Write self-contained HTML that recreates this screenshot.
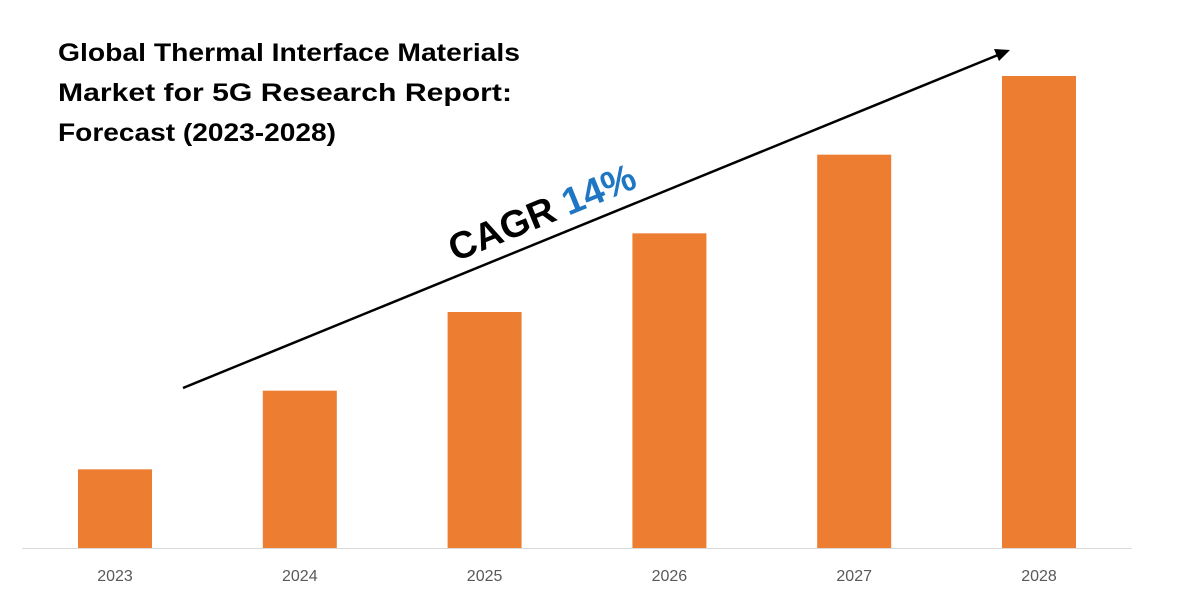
<!DOCTYPE html>
<html><head><meta charset="utf-8"><style>
body{margin:0;background:#fff;}
svg{display:block;font-family:"Liberation Sans",sans-serif;}
</style></head><body>
<svg id="chart" width="1200" height="600" viewBox="0 0 1200 600">
<g font-weight="bold" font-size="25" fill="#000">
<text x="58" y="61" textLength="462" lengthAdjust="spacingAndGlyphs">Global Thermal Interface Materials</text>
<text x="58" y="101" textLength="454" lengthAdjust="spacingAndGlyphs">Market for 5G Research Report:</text>
<text x="58" y="141" textLength="278" lengthAdjust="spacingAndGlyphs">Forecast (2023-2028)</text>
</g>
<g id="bars"></g>
<g id="ticks"></g>
<line x1="22" y1="548.5" x2="1132" y2="548.5" stroke="#d9d9d9" stroke-width="1"/>
<g>
<line x1="183" y1="388" x2="998" y2="55" stroke="#000" stroke-width="2.5"/>
<polygon points="1010,50 994,49 999,61" fill="#000"/>
</g>
<g transform="translate(455,262) rotate(-22.2)">
<text x="0" y="0" font-size="38" font-weight="bold"><tspan fill="#000">CAGR </tspan><tspan fill="#1f77c4">14%</tspan></text>
</g>
</svg>
<script>
const categories=["2023","2024","2025","2026","2027","2028"];
const values=[1,2,3,4,5,6];
const yMax=6;
const plotTop=76, plotBottom=548, firstCenter=115, step=184.8, barW=74;
const yScale=v=>plotBottom-(v/yMax)*(plotBottom-plotTop);
const xScale=i=>firstCenter+i*step;
const ns="http://www.w3.org/2000/svg";
const bars=document.getElementById('bars'), ticks=document.getElementById('ticks');
categories.forEach((c,i)=>{
 const r=document.createElementNS(ns,'rect');
 r.setAttribute('x',xScale(i)-barW/2);
 r.setAttribute('y',yScale(values[i]));
 r.setAttribute('width',barW);
 r.setAttribute('height',plotBottom-yScale(values[i]));
 r.setAttribute('fill','#ed7d31');
 
 
 bars.appendChild(r);
 const t=document.createElementNS(ns,'text');
 t.setAttribute('x',xScale(i));
 t.setAttribute('y',581);
 t.setAttribute('text-anchor','middle');
 t.setAttribute('font-size','16');
 t.setAttribute('fill','#595959');
 t.textContent=c;
 
 
 ticks.appendChild(t);
});
</script>
</body></html>
